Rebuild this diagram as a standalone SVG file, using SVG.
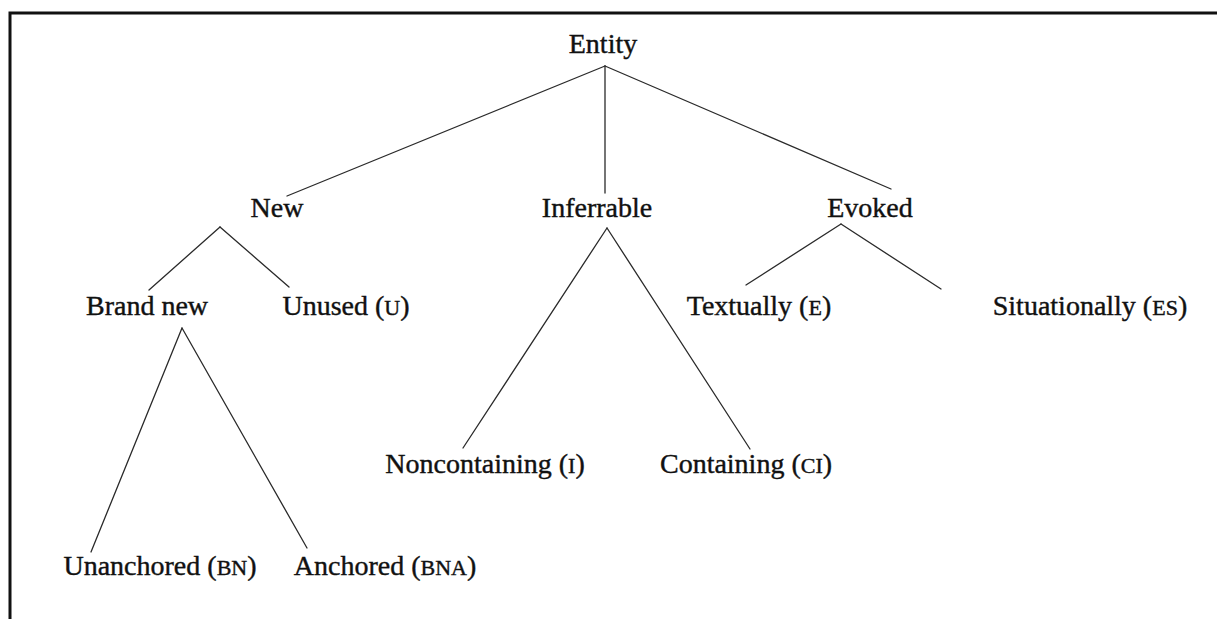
<svg xmlns="http://www.w3.org/2000/svg" width="1217" height="619" viewBox="0 0 1217 619">
<style>
  .lbl { font-family: "Liberation Serif", "Times New Roman", serif; font-size: 28px; fill: #111; stroke: #111; stroke-width: 0.4; text-anchor: middle; }
  .sc { font-size: 22px; }
  .edge { stroke: #2a2a2a; stroke-width: 1.3; fill: none; stroke-linecap: round; }
  .frame { stroke: #111; stroke-width: 3; fill: none; }
</style>
<rect x="0" y="0" width="1217" height="619" fill="#ffffff"/>
<g id="frame">
  <path class="frame" d="M10,619 L10,13 L1217,13"/>
</g>
<g id="connectors">
  <line class="edge" x1="605" y1="66" x2="287" y2="196"/>
  <line class="edge" x1="605" y1="66" x2="605" y2="193"/>
  <line class="edge" x1="605" y1="66" x2="891" y2="189"/>
  <line class="edge" x1="220" y1="227" x2="149" y2="290"/>
  <line class="edge" x1="220" y1="227" x2="289" y2="287"/>
  <line class="edge" x1="182" y1="328" x2="91" y2="552"/>
  <line class="edge" x1="182" y1="328" x2="307" y2="548"/>
  <line class="edge" x1="607" y1="228" x2="463" y2="448"/>
  <line class="edge" x1="607" y1="228" x2="750" y2="449"/>
  <line class="edge" x1="841" y1="224" x2="746" y2="285"/>
  <line class="edge" x1="841" y1="224" x2="941" y2="289"/>
</g>
<g id="node-entity"><text class="lbl" x="603" y="53">Entity</text></g>
<g id="node-new"><text class="lbl" x="277" y="217">New</text></g>
<g id="node-inferrable"><text class="lbl" x="597" y="217">Inferrable</text></g>
<g id="node-evoked"><text class="lbl" x="870" y="217">Evoked</text></g>
<g id="node-brandnew"><text class="lbl" x="147" y="315">Brand new</text></g>
<g id="node-unused"><text class="lbl" x="346" y="315">Unused (<tspan class="sc">U</tspan>)</text></g>
<g id="node-textually"><text class="lbl" x="759" y="315">Textually (<tspan class="sc">E</tspan>)</text></g>
<g id="node-situationally"><text class="lbl" x="1090" y="315">Situationally (<tspan class="sc">ES</tspan>)</text></g>
<g id="node-noncontaining"><text class="lbl" x="485" y="473">Noncontaining (<tspan class="sc">I</tspan>)</text></g>
<g id="node-containing"><text class="lbl" x="746" y="473">Containing (<tspan class="sc">CI</tspan>)</text></g>
<g id="node-unanchored"><text class="lbl" x="160" y="575">Unanchored (<tspan class="sc">BN</tspan>)</text></g>
<g id="node-anchored"><text class="lbl" x="385" y="575">Anchored (<tspan class="sc">BNA</tspan>)</text></g>
</svg>
